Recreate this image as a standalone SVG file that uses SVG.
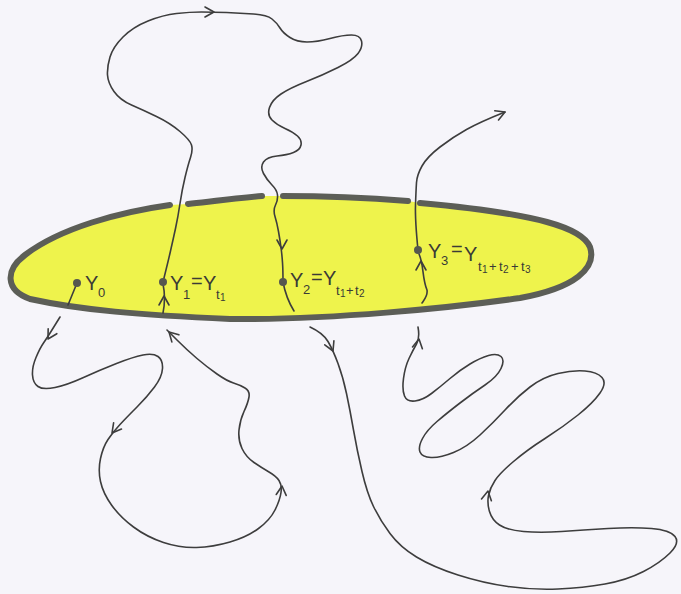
<svg xmlns="http://www.w3.org/2000/svg" xmlns:xlink="http://www.w3.org/1999/xlink" width="681" height="594" viewBox="0 0 681 594">
<style>
.bg{fill:#f6f5fa}
.fillY{fill:#eef34c;stroke:none}
.rim{fill:none;stroke:#5c5e57;stroke-width:6;stroke-linecap:round;stroke-linejoin:round}
.ln{fill:none;stroke:#3d3d3d;stroke-width:1.6;stroke-linecap:round;stroke-linejoin:round}
.dot{fill:#55574f}
.t{font-family:'Liberation Sans',Arial,sans-serif;fill:#3a3a36;font-size:20px}
.s{font-size:13px}
.ss{font-size:10px}
</style>
<defs>
<path id="ah" class="ln" d="M-9,-5 L0,0 L-9,5"/>
</defs>
<rect class="bg" x="0" y="0" width="681" height="594"/>
<g id="region">
<path class="fillY" d="M170,205 C120,212 60,228 25,255 C5,270 5,290 30,299 C80,310 140,315 230,319 C330,320 450,308 520,298 C575,288 597,268 590,247 C582,228 540,214 420,203 L408,201 C370,198 330,196 283,196 L262,196 C240,198 215,201 188,204 Z"/>
<path class="rim" d="M170,205 C120,212 60,228 25,255 C5,270 5,290 30,299 C80,310 140,315 230,319 C330,320 450,308 520,298 C575,288 597,268 590,247 C582,228 540,214 420,203"/>
<path class="rim" d="M188,204 C215,201 240,198 262,196"/>
<path class="rim" d="M283,196 C330,196 370,198 408,201"/>
</g>
<g id="connectors">
<path class="ln" d="M163,282 Q168,262 170.5,251 Q173,240 175.5,228.5 Q178,217 180,203.5 Q182,190 185,177.5 Q188,165 190.5,157.5 Q193,150 191.5,145 Q190,140 180,131.5 Q170,123 156.5,116.5 Q143,110 131.5,105 Q120,100 114,91.5 Q108,83 107.5,75 Q107,67 110,57 Q113,47 123,37 Q133,27 148,21 Q163,15 176.5,13.5 Q190,12 201.5,12 Q213,12 226.5,12.5 Q240,13 253.5,14 Q267,15 272,19 Q277,23 280,28 Q283,33 290,37.5 Q297,42 307,42 Q317,42 330,38.5 Q343,35 351.5,35 Q360,35 361.5,41 Q363,47 358,53.5 Q353,60 338,67.5 Q323,75 306.5,81.5 Q290,88 281,94 Q272,100 269.5,107.5 Q267,115 272,120 Q277,125 285,128.5 Q293,132 297.5,136 Q302,140 301,145 Q300,150 293.5,152.5 Q287,155 277,156 Q267,157 263.5,162 Q260,167 263.5,173.5 Q267,180 272,185 Q277,190 277.5,195 Q278,200 275.5,205 Q273,210 275,216.5 Q277,223 278.5,231.5 Q280,240 281,247.5 Q282,255 282.5,262.5 Q283,270 283,282"/>
<path class="ln" d="M163,284 Q166,298 163,313"/>
<path class="ln" d="M283,282 Q286,298 294,311"/>
<path class="ln" d="M77,283 L68,305"/>
<path class="ln" d="M418,250 Q415,220 415.5,205 Q416,190 416.5,182.5 Q417,175 422,166 Q427,157 440,147 Q453,137 466.5,129.5 Q480,122 505,112"/>
<path class="ln" d="M419,254 C424,265 422,278 427,290 C428,296 424,300 422,303"/>
<path class="ln" d="M60,317 Q55,325 51,331.5 Q47,338 43.5,343 Q40,348 36,357.5 Q32,367 32.5,375 Q33,383 38,386.5 Q43,390 55,387.5 Q67,385 83.5,377.5 Q100,370 116.5,363.5 Q133,357 143,355 Q153,353 158,356.5 Q163,360 162.5,368.5 Q162,377 154.5,387 Q147,397 137,407 Q127,417 120,424.5 Q113,432 108,439.5 Q103,447 100.5,458.5 Q98,470 100.5,481.5 Q103,493 111.5,505 Q120,517 133.5,527 Q147,537 163.5,542.5 Q180,548 196.5,547.5 Q213,547 230,542 Q247,537 258.5,528.5 Q270,520 275,510 Q280,500 281,492.5 Q282,485 279,480.5 Q276,476 269,472 Q262,468 254,462.5 Q246,457 242,448.5 Q238,440 239,430 Q240,420 244,411.5 Q248,403 249,397 Q250,391 245,388 Q240,385 233.5,383 Q227,381 217,374 Q207,367 197,358.5 Q187,350 177,340 L167,330"/>
<path class="ln" d="M310,327 Q323,333 328,341.5 Q333,350 338,363.5 Q343,377 346.5,393.5 Q350,410 353.5,430 Q357,450 362,471.5 Q367,493 373.5,506.5 Q380,520 390,533.5 Q400,547 416.5,557 Q433,567 458,575 Q483,583 508,586.5 Q533,590 558,589 Q583,588 605,584 Q627,580 643.5,571.5 Q660,563 670,553 Q680,543 675,536.5 Q670,530 651.5,528.5 Q633,527 608,528.5 Q583,530 561.5,531.5 Q540,533 523.5,531.5 Q507,530 499.5,525 Q492,520 489.5,511.5 Q487,503 488.5,495.5 Q490,488 495,480.5 Q500,473 513.5,461.5 Q527,450 545,438.5 Q563,427 578,415 Q593,403 600,393 Q607,383 602,377.5 Q597,372 585,371 Q573,370 558,373.5 Q543,377 530,387 Q517,397 505,410 Q493,423 480,435 Q467,447 453.5,452.5 Q440,458 431,457.5 Q422,457 420,452 Q418,447 422.5,438.5 Q427,430 437,421.5 Q447,413 460,403 Q473,393 485,385 Q497,377 501,368.5 Q505,360 501,356.5 Q497,353 488.5,355.5 Q480,358 470,364 Q460,370 450,378.5 Q440,387 431.5,393.5 Q423,400 415,401 Q407,402 404.5,396 Q402,390 403.5,378.5 Q405,367 409,358.5 Q413,350 416.5,344 Q420,338 418,327"/>
<use xlink:href="#ah" href="#ah" transform="translate(214,12) rotate(0)"/>
<use xlink:href="#ah" href="#ah" transform="translate(282,249) rotate(90)"/>
<use xlink:href="#ah" href="#ah" transform="translate(164,296) rotate(-90)"/>
<use xlink:href="#ah" href="#ah" transform="translate(421,261) rotate(-90)"/>
<use xlink:href="#ah" href="#ah" transform="translate(505,112) rotate(-22)"/>
<use xlink:href="#ah" href="#ah" transform="translate(48,339) rotate(120)"/>
<use xlink:href="#ah" href="#ah" transform="translate(112,433) rotate(128)"/>
<use xlink:href="#ah" href="#ah" transform="translate(282,486) rotate(-85)"/>
<use xlink:href="#ah" href="#ah" transform="translate(169,332) rotate(-135)"/>
<use xlink:href="#ah" href="#ah" transform="translate(333,351) rotate(66)"/>
<use xlink:href="#ah" href="#ah" transform="translate(488,491) rotate(-80)"/>
<use xlink:href="#ah" href="#ah" transform="translate(419,339) rotate(-80)"/>
</g>
<g id="y0">
<circle class="dot" cx="77" cy="283" r="4"/>
<text class="t"><tspan x="85" y="290">Y</tspan><tspan class="s" x="98" y="297">0</tspan></text>
</g>
<g id="y1">
<circle class="dot" cx="163" cy="282" r="4"/>
<text class="t"><tspan x="170" y="290">Y</tspan><tspan class="s" x="183" y="299">1</tspan><tspan x="191" y="288">=</tspan><tspan x="203" y="290">Y</tspan><tspan class="s" x="216" y="299">t</tspan><tspan class="ss" x="220" y="301">1</tspan></text>
</g>
<g id="y2">
<circle class="dot" cx="283" cy="282" r="4"/>
<text class="t"><tspan x="290" y="287">Y</tspan><tspan class="s" x="303" y="294">2</tspan><tspan x="311" y="284">=</tspan><tspan x="323" y="285">Y</tspan><tspan class="s" x="336" y="295">t</tspan><tspan class="ss" x="340" y="297">1</tspan><tspan class="s" x="346" y="295">+</tspan><tspan class="s" x="355" y="295">t</tspan><tspan class="ss" x="359" y="297">2</tspan></text>
</g>
<g id="y3">
<circle class="dot" cx="418" cy="250" r="4"/>
<text class="t"><tspan x="428" y="258">Y</tspan><tspan class="s" x="441" y="265">3</tspan><tspan x="451" y="256">=</tspan><tspan x="464" y="261">Y</tspan><tspan class="s" x="478" y="271">t</tspan><tspan class="ss" x="482" y="273">1</tspan><tspan class="s" x="489" y="271">+</tspan><tspan class="s" x="499" y="271">t</tspan><tspan class="ss" x="503" y="273">2</tspan><tspan class="s" x="511" y="271">+</tspan><tspan class="s" x="521" y="271">t</tspan><tspan class="ss" x="525" y="273">3</tspan></text>
</g>
</svg>
